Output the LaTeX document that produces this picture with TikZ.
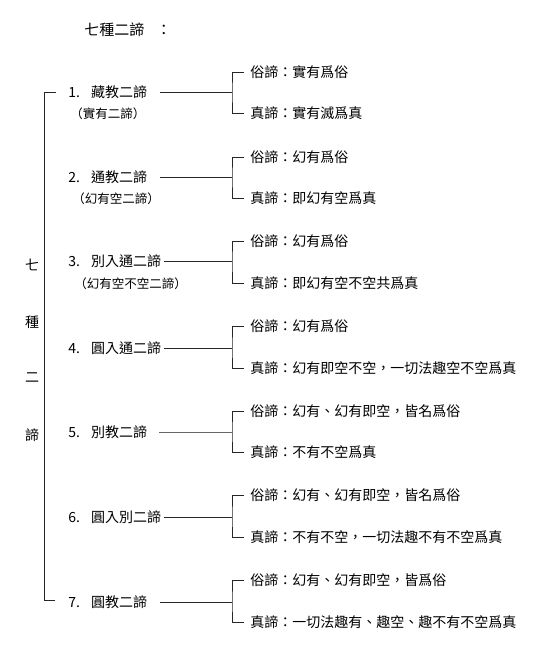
\documentclass[tikz,border=0pt]{standalone}
\usepackage{fontspec}
\setmainfont{Noto Sans CJK TC}
\begin{document}
\begin{tikzpicture}[x=1pt,y=-1pt,line width=0.7pt,
  lbl/.style={anchor=west,inner sep=0pt,font=\fontsize{14}{14}\selectfont},
  sublbl/.style={anchor=west,inner sep=0pt,font=\fontsize{12.5}{12.5}\selectfont},
  vert/.style={inner sep=0pt,font=\fontsize{14}{14}\selectfont},
  conn/.style={draw=black!85}]
\useasboundingbox (0,0) rectangle (558,650);
\node[lbl,font=\fontsize{15}{15}\selectfont] (title) at (84,30) {七種二諦\hspace{12pt}：};
% vertical label
\node[vert] (v1) at (32,265) {七};
\node[vert] (v2) at (32,322) {種};
\node[vert] (v3) at (32,378) {二};
\node[vert] (v4) at (32,435) {諦};
% main bracket
\coordinate (mt) at (44,92);
\coordinate (mtt) at (56,92);
\coordinate (mb) at (44,600);
\coordinate (mbb) at (55,600);
\draw[conn] (mtt) -- (mt) -- (mb) -- (mbb);
% item 1
\node[lbl] (L1) at (68,92) {1.\hspace{11pt}藏教二諦};
\node[sublbl] (S1) at (70,114) {（實有二諦）};
\coordinate (B1) at (232,92);
\node[lbl] (T1) at (250,72) {俗諦：實有爲俗};
\node[lbl] (U1) at (250,113) {真諦：實有滅爲真};
\draw[conn] ([xshift=13pt]L1.east) -- (B1);
\draw[conn] ([xshift=-6pt]T1.west) -| (B1) |- ([xshift=-6pt]U1.west);
% item 2
\node[lbl] (L2) at (68,177) {2.\hspace{11pt}通教二諦};
\node[sublbl] (S2) at (72,199) {（幻有空二諦）};
\coordinate (B2) at (232,177);
\node[lbl] (T2) at (250,157) {俗諦：幻有爲俗};
\node[lbl] (U2) at (250,198) {真諦：即幻有空爲真};
\draw[conn] ([xshift=13pt]L2.east) -- (B2);
\draw[conn] ([xshift=-6pt]T2.west) -| (B2) |- ([xshift=-6pt]U2.west);
% item 3
\node[lbl] (L3) at (68,261) {3.\hspace{11pt}別入通二諦};
\node[sublbl] (S3) at (74,284) {（幻有空不空二諦）};
\coordinate (B3) at (232,261);
\node[lbl] (T3) at (250,241) {俗諦：幻有爲俗};
\node[lbl] (U3) at (250,283) {真諦：即幻有空不空共爲真};
\draw[conn] ([xshift=3pt]L3.east) -- (B3);
\draw[conn] ([xshift=-6pt]T3.west) -| (B3) |- ([xshift=-6pt]U3.west);
% item 4
\node[lbl] (L4) at (68,348) {4.\hspace{11pt}圓入通二諦};
\coordinate (B4) at (232,348);
\node[lbl] (T4) at (250,326) {俗諦：幻有爲俗};
\node[lbl] (U4) at (250,368) {真諦：幻有即空不空，一切法趣空不空爲真};
\draw[conn] ([xshift=3pt]L4.east) -- (B4);
\draw[conn] ([xshift=-6pt]T4.west) -| (B4) |- ([xshift=-6pt]U4.west);
% item 5
\node[lbl] (L5) at (68,432) {5.\hspace{11pt}別教二諦};
\coordinate (B5) at (232,432);
\node[lbl] (T5) at (250,411) {俗諦：幻有、幻有即空，皆名爲俗};
\node[lbl] (U5) at (250,452) {真諦：不有不空爲真};
\draw[conn,draw=black!60] ([xshift=12pt]L5.east) -- (B5);
\draw[conn] ([xshift=-6pt]T5.west) -| (B5) |- ([xshift=-6pt]U5.west);
% item 6
\node[lbl] (L6) at (68,517) {6.\hspace{11pt}圓入別二諦};
\coordinate (B6) at (232,517);
\node[lbl] (T6) at (250,495) {俗諦：幻有、幻有即空，皆名爲俗};
\node[lbl] (U6) at (250,537) {真諦：不有不空，一切法趣不有不空爲真};
\draw[conn] ([xshift=3pt]L6.east) -- (B6);
\draw[conn] ([xshift=-6pt]T6.west) -| (B6) |- ([xshift=-6pt]U6.west);
% item 7
\node[lbl] (L7) at (68,602) {7.\hspace{11pt}圓教二諦};
\coordinate (B7) at (232,602);
\node[lbl] (T7) at (250,580) {俗諦：幻有、幻有即空，皆爲俗};
\node[lbl] (U7) at (250,622) {真諦：一切法趣有、趣空、趣不有不空爲真};
\draw[conn] ([xshift=13pt]L7.east) -- (B7);
\draw[conn] ([xshift=-6pt]T7.west) -| (B7) |- ([xshift=-6pt]U7.west);
\end{tikzpicture}
\end{document}
